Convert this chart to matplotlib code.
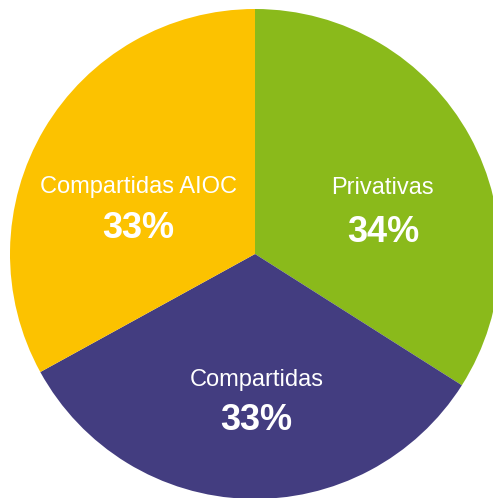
import matplotlib.pyplot as plt

# data
categorias = ["Privativas", "Compartidas", "Compartidas AIOC"]
valores = [34, 33, 33]
colores = ["#8aba1b", "#433d80", "#fcc200"]

# label positions (axes units, pie radius = 1): (x, y of name, y of percent)
pos_labels = [(0.522, 0.269, 0.086), (0.006, -0.514, -0.681), (-0.475, 0.273, 0.106)]

plt.rcParams['font.family'] = ['Liberation Sans', 'DejaVu Sans']

fig = plt.figure(figsize=(4.93, 4.98), dpi=100)
ax = fig.add_axes([0, 0, 1, 1])

ax.pie(valores, colors=colores, startangle=90, counterclock=False,
       radius=1, wedgeprops=dict(linewidth=0))

for cat, val, (x, y1, y2) in zip(categorias, valores, pos_labels):
    ax.text(x, y1, cat, color="white", fontsize=17,
            ha="center", va="center")
    ax.text(x, y2, f"{val}%", color="white", fontsize=26,
            fontweight="bold", ha="center", va="center")

# pie center at pixel (255, 254), radius 245 px
ax.set_xlim(-255 / 245, (493 - 255) / 245)
ax.set_ylim(-(498 - 254) / 245, 254 / 245)
ax.axis("off")

fig.savefig("out.png", dpi=100)
